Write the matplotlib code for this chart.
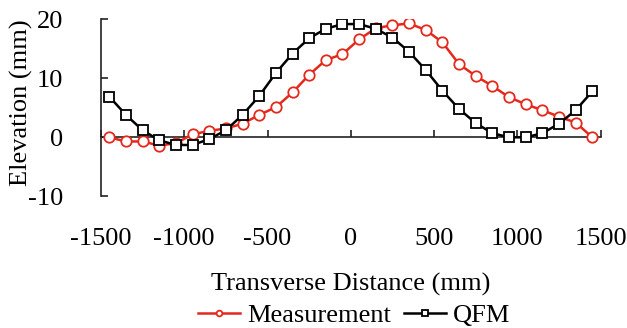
import matplotlib
matplotlib.use("Agg")
import matplotlib.pyplot as plt

plt.rcParams["font.family"] = ["Liberation Serif", "DejaVu Serif"]
plt.rcParams["axes.unicode_minus"] = False

x = [-1450, -1350, -1250, -1150, -1050, -950, -850, -750, -650, -550,
     -450, -350, -250, -150, -50, 50, 150, 250, 350, 450,
     550, 650, 750, 850, 950, 1050, 1150, 1250, 1350, 1450]

measurement = [0.0, -0.7, -0.7, -1.4, -1.0, 0.5, 1.1, 1.5, 2.3, 3.8,
               5.1, 7.6, 10.6, 13.1, 14.1, 16.6, 18.5, 19.0, 19.3, 18.2,
               16.1, 12.4, 10.4, 8.7, 6.8, 5.6, 4.6, 3.5, 2.5, 0.0]

qfm = [6.9, 3.8, 1.2, -0.5, -1.3, -1.3, -0.3, 1.2, 3.8, 7.0,
       10.9, 14.2, 16.8, 18.4, 19.2, 19.2, 18.4, 16.9, 14.5, 11.4,
       7.9, 4.8, 2.4, 0.7, 0.0, 0.0, 0.7, 2.3, 4.6, 7.8]

xticks = [-1500, -1000, -500, 0, 500, 1000, 1500]
yticks = [-10, 0, 10, 20]

fs = 19

fig = plt.figure(figsize=(6.27, 3.28), dpi=100)
ax = fig.add_axes([0.161, 0.4015, 0.797, 0.5395])

ax.plot(x, measurement, color="#e5281c", lw=1.8, marker="o", ms=7.5,
        mfc="white", mec="#e5281c", mew=1.3, label="Measurement", zorder=3)
ax.plot(x, qfm, color="black", lw=1.8, marker="s", ms=7,
        mfc="white", mec="black", mew=1.3, label="QFM", zorder=4)

ax.set_xlim(-1500, 1500)
ax.set_ylim(-10, 20)
ax.set_yticks(yticks)
ax.set_xticks(xticks)

ax.spines["top"].set_visible(False)
ax.spines["right"].set_visible(False)
ax.spines["bottom"].set_position(("data", 0))
for s in ["left", "bottom"]:
    ax.spines[s].set_linewidth(1.2)
    ax.spines[s].set_color("#222222")

ax.tick_params(axis="x", direction="in", length=5, width=1.2,
               labelbottom=False, color="#222222")
ax.tick_params(axis="y", direction="in", length=5, width=1.2,
               labelsize=fs, pad=27, color="#222222")

sec = ax.secondary_xaxis("bottom")
sec.set_xticks(xticks)
sec.spines["bottom"].set_visible(False)
sec.tick_params(length=0, labelsize=fs, pad=23)
sec.set_xlabel("Transverse Distance (mm)", fontsize=fs, labelpad=16)

ax.set_ylabel("Elevation (mm)", fontsize=fs)
ax.yaxis.set_label_coords(-0.136, 0.53)

fig.legend(loc="lower center", bbox_to_anchor=(0.565, -0.07), ncol=2,
           frameon=False, fontsize=fs, handlelength=1.6, handletextpad=0.25,
           columnspacing=0.5, markerscale=0.55)

fig.savefig("out.png", dpi=100)
